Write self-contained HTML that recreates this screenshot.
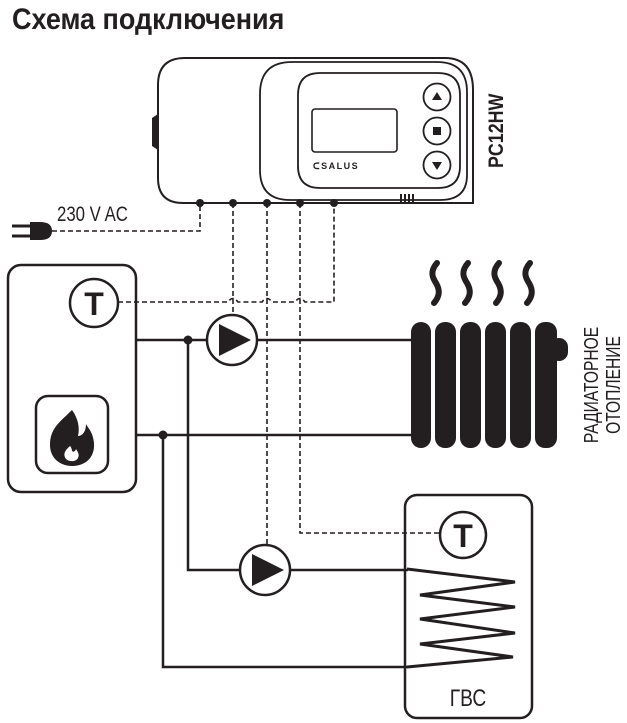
<!DOCTYPE html>
<html><head><meta charset="utf-8"><style>
html,body{margin:0;padding:0;background:#fff;}
svg{display:block;}
text{font-family:"Liberation Sans",sans-serif;fill:#231f20;}
</style></head><body>
<svg width="627" height="723" viewBox="0 0 627 723" xmlns="http://www.w3.org/2000/svg">
<g stroke="#231f20" fill="none">
<!-- title -->
<text x="0" y="0" font-size="30" font-weight="bold" stroke="none" transform="translate(12,29) scale(0.9,1)">Схема подключения</text>

<!-- controller -->
<path d="M473,90 Q473,58 445,58 L185,58 Q158,58 158,85 L158,178 Q158,203 183,203 L473,203 Z" stroke-width="2"/>
<path d="M152,118 L158,114 L158,150 L152,146 Z" fill="#231f20" stroke="none"/>
<path d="M467,92 Q467,62 437,62 L292,62 Q260,62 260,94 L260,170 Q260,200 290,200 L440,200 Q467,200 467,175 Z" stroke-width="1.8"/>
<path d="M460,95 Q460,73 438,73 L320,73 Q298,73 298,95 L298,166 Q298,188 320,188 L438,188 Q460,188 460,166 Z" stroke-width="1.8"/>
<rect x="312" y="109" width="85" height="43" rx="3" stroke-width="1.6"/>
<text x="313" y="169" font-size="9" font-weight="bold" stroke="none" fill="#555" letter-spacing="1.5">ᑕSALUS</text>
<circle cx="437" cy="97" r="13.5" stroke-width="1.8"/>
<circle cx="437" cy="131" r="13.5" stroke-width="1.8"/>
<circle cx="437" cy="165" r="13.5" stroke-width="1.8"/>
<path d="M432,100 L442,100 L437,92 Z" fill="#231f20" stroke="none"/>
<rect x="433" y="127" width="8" height="8" fill="#231f20" stroke="none"/>
<path d="M432,162 L442,162 L437,170 Z" fill="#231f20" stroke="none"/>
<path d="M401,194 V203 M405,194 V203 M409,194 V203 M413,194 V203" stroke-width="2"/>
<text x="0" y="0" font-size="21" font-weight="bold" stroke="none" transform="translate(503,168) rotate(-90) scale(0.85,1)">PC12HW</text>

<!-- plug -->
<path d="M30,222 L40,222 Q52,222 52,231 Q52,240 40,240 L30,240 Z" fill="#231f20" stroke="none"/>
<path d="M12,226 H30 M12,236 H30" stroke-width="3"/>
<text x="0" y="0" font-size="21" stroke="none" transform="translate(57,221) scale(0.8,1)">230 V AC</text>

<!-- dashed wires -->
<g stroke-width="1.6" stroke-dasharray="5,3">
<path d="M52,231 H200 V203"/>
<path d="M233,203 V316"/>
<path d="M267,203 V546"/>
<path d="M300,203 V533 H440"/>
<path d="M118,302 H228 Q233,295 238,302 H262 Q267,295 272,302 H295 Q300,295 305,302 H334 V203"/>
</g>
<g fill="#231f20" stroke="none">
<circle cx="200" cy="203" r="4"/><circle cx="233" cy="203" r="4"/><circle cx="267" cy="203" r="4"/><circle cx="300" cy="203" r="4"/><circle cx="334" cy="203" r="4"/>
</g>

<!-- boiler -->
<rect x="8" y="265" width="128" height="227" rx="13" stroke-width="2.5"/>
<circle cx="94" cy="303" r="24" stroke-width="2.5"/>
<text x="94" y="315" font-size="32" font-weight="bold" text-anchor="middle" stroke="none">T</text>
<rect x="36" y="396" width="72" height="77" rx="12" stroke-width="2.5"/>
<path d="M72,410 C60,422 50,428 50,445 C50,458 60,466 72,466 C85,466 95,458 94,443 C93,432 88,428 86,424 C86,432 82,436 78,436 C80,428 78,418 72,410 Z" fill="#231f20" stroke="none"/>
<path d="M70,446 C64,451 63,455 66,459 C69,462 76,462 78,458 C80,454 77,451 76,449 C75,452 73,452 72,451 C72,449 71,447 70,446 Z" fill="#fff" stroke="none"/>

<!-- pipes -->
<g stroke-width="2.5">
<path d="M136,340 H415"/>
<path d="M136,435 H415"/>
<path d="M188,340 V570 H408"/>
<path d="M163,435 V667 H408"/>
</g>
<circle cx="188" cy="340" r="4.5" fill="#231f20" stroke="none"/>
<circle cx="163" cy="435" r="4.5" fill="#231f20" stroke="none"/>
<!-- pumps -->
<circle cx="232" cy="340" r="25" fill="#fff" stroke-width="2.5"/>
<path d="M219,324 L251,340 L219,356 Z" fill="#231f20" stroke="none"/>
<circle cx="265" cy="570" r="25" fill="#fff" stroke-width="2.5"/>
<path d="M252,554 L284,570 L252,586 Z" fill="#231f20" stroke="none"/>

<!-- radiator -->
<g fill="#231f20" stroke="none">
<rect x="411" y="322" width="20" height="126" rx="10"/>
<rect x="435" y="322" width="21" height="126" rx="10"/>
<rect x="460" y="322" width="21" height="126" rx="10"/>
<rect x="485" y="322" width="21" height="126" rx="10"/>
<rect x="510" y="322" width="21" height="126" rx="10"/>
<rect x="535" y="322" width="22" height="126" rx="10"/>
<rect x="550" y="338" width="18" height="23" rx="9"/>
</g>
<g stroke-width="6" stroke-linecap="round">
<path d="M437,263 C430,271 432,277 436,283 C440,290 440,296 434,303"/>
<path d="M468,263 C461,271 463,277 467,283 C471,290 471,296 465,303"/>
<path d="M499,263 C492,271 494,277 498,283 C502,290 502,296 496,303"/>
<path d="M530,263 C523,271 525,277 529,283 C533,290 533,296 527,303"/>
</g>
<text font-size="20" stroke="none" text-anchor="middle" transform="translate(598,385) rotate(-90) scale(0.78,1)">РАДИАТОРНОЕ</text>
<text font-size="20" stroke="none" text-anchor="middle" transform="translate(620,385) rotate(-90) scale(0.78,1)">ОТОПЛЕНИЕ</text>

<!-- tank -->
<rect x="405" y="495" width="127" height="223" rx="12" stroke-width="2.5"/>
<circle cx="463" cy="535" r="23" fill="#fff" stroke-width="2.5"/>
<text x="463" y="547" font-size="32" font-weight="bold" text-anchor="middle" stroke="none">T</text>
<path d="M407,569 L515,582 L420,595 L515,607 L420,619 L515,633 L420,644 L513,657 L407,667" stroke-width="3" stroke-linejoin="miter"/>
<text x="0" y="0" font-size="24" stroke="none" text-anchor="middle" transform="translate(468,706) scale(0.8,1)">ГВС</text>
</g>
</svg>
</body></html>
